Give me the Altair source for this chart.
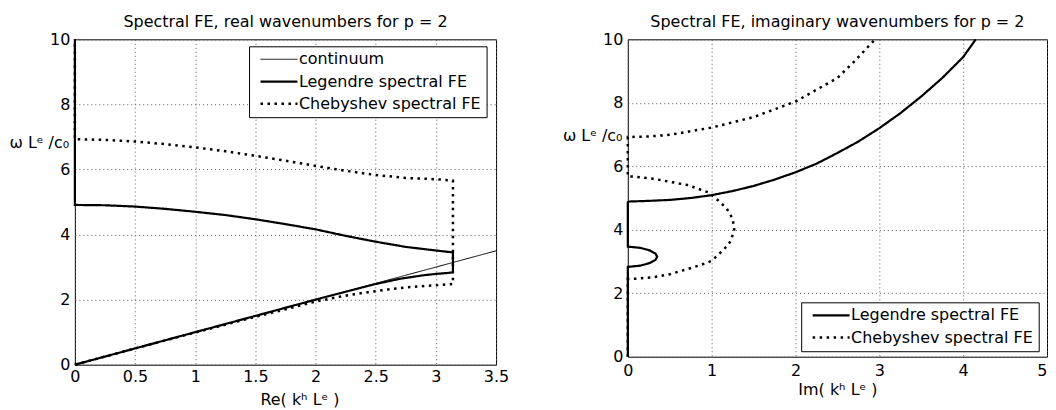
import altair as alt
import pandas as pd

PI = 3.1416

# ---------- Left panel: real wavenumbers ----------
cont_k = [0.0, 3.5]
cont_w = [0.0, 3.5]

leg_re_k = [0.0, 0.5, 1.0, 1.5, 2.0, 2.3, 2.5, 2.7, 2.9, 3.0, 3.1, PI, PI, 3.0, 2.75, 2.5,
            2.25, 2.0, 1.75, 1.5, 1.25, 1.0, 0.75, 0.5, 0.25, 0.0, 0.0]
leg_re_w = [0.0, 0.5, 1.0, 1.5, 2.0, 2.29, 2.48, 2.64, 2.75, 2.79, 2.82, 2.84, 3.45, 3.51, 3.62, 3.78,
            3.96, 4.16, 4.32, 4.47, 4.60, 4.70, 4.79, 4.86, 4.90, 4.91, 10.0]

cheb_re_k = [0.0, 0.5, 1.0, 1.5, 1.8, 2.0, 2.2, 2.4, 2.6, 2.8, 3.0, PI, PI, 3.0, 2.75, 2.5,
             2.25, 2.0, 1.75, 1.5, 1.25, 1.0, 0.75, 0.5, 0.25, 0.0, 0.0]
cheb_re_w = [0.0, 0.5, 0.99, 1.47, 1.75, 1.94, 2.09, 2.21, 2.31, 2.39, 2.44, 2.48, 5.66, 5.70, 5.74, 5.83,
             5.96, 6.11, 6.27, 6.42, 6.56, 6.68, 6.78, 6.86, 6.91, 6.93, 10.0]

# ---------- Right panel: imaginary wavenumbers ----------
leg_im_k = [0.0, 0.0, 0.15, 0.26, 0.33, 0.35, 0.33, 0.26, 0.15, 0.0, 0.0, 0.02, 0.25, 0.5, 0.75,
            1.0, 1.25, 1.5, 1.75, 2.0, 2.25, 2.5, 2.75, 3.0, 3.25, 3.5, 3.75, 4.0, 4.15]
leg_im_w = [0.0, 2.83, 2.87, 2.95, 3.05, 3.15, 3.25, 3.35, 3.43, 3.47, 4.87, 4.89, 4.91, 4.94, 5.00,
            5.09, 5.22, 5.38, 5.58, 5.81, 6.08, 6.42, 6.78, 7.20, 7.67, 8.20, 8.78, 9.44, 10.0]

cheb_im_k = [0.0, 0.0, 0.06, 0.32, 0.5, 0.71, 0.88, 1.0, 1.15, 1.23, 1.27, 1.25, 1.18, 1.05, 0.96,
             0.71, 0.32, 0.06, 0.0, 0.0, 0.25, 0.5, 1.0, 1.5, 2.0, 2.5, 2.7, 2.95]
cheb_im_w = [0.0, 2.45, 2.45, 2.51, 2.60, 2.76, 2.90, 3.02, 3.39, 3.65, 4.02, 4.35, 4.67, 4.99, 5.18,
             5.41, 5.60, 5.68, 5.68, 6.92, 6.94, 6.99, 7.22, 7.55, 8.04, 8.78, 9.30, 10.0]

SERIES_L = ["continuum", "Legendre spectral FE", "Chebyshev spectral FE"]
SERIES_R = ["Legendre spectral FE", "Chebyshev spectral FE"]
DASH = {"continuum": [1, 0], "Legendre spectral FE": [1, 0], "Chebyshev spectral FE": [2.5, 4.5]}
WIDTH = {"continuum": 1.0, "Legendre spectral FE": 2.2, "Chebyshev spectral FE": 2.5}

FONT = "DejaVu Sans"


def frame(xs, ws, name):
    return pd.DataFrame({"x": xs, "w": ws, "series": name, "i": list(range(len(xs)))})


left_df = pd.concat([frame(cont_k, cont_w, SERIES_L[0]),
                     frame(leg_re_k, leg_re_w, SERIES_L[1]),
                     frame(cheb_re_k, cheb_re_w, SERIES_L[2])], ignore_index=True)
right_df = pd.concat([frame(leg_im_k, leg_im_w, SERIES_R[0]),
                      frame(cheb_im_k, cheb_im_w, SERIES_R[1])], ignore_index=True)


def legend(lx, ly):
    return alt.Legend(orient="none", legendX=lx, legendY=ly, title=None, padding=5,
                      strokeColor="black", fillColor="white",
                      symbolType="M-0.375,0H8.875", symbolSize=64, labelOffset=29,
                      rowPadding=6.3, labelFontSize=16, labelFont=FONT, labelLimit=400,
                      labelColor="black")


def panel(df, series, xdom, xvals, xtitle, title, w, h, lx, ly, ytx, yty, xtx, xty, xlabpad,
          xalign):
    leg = legend(lx, ly)
    return alt.Chart(df, title=alt.TitleParams(title, fontSize=16, fontWeight="normal", font=FONT,
                                               offset=-12, baseline="alphabetic", anchor="middle",
                                               frame="group", color="black")).mark_line().encode(
        x=alt.X("x:Q", scale=alt.Scale(domain=xdom, nice=False, zero=False),
                axis=alt.Axis(values=xvals, format="~g", title=xtitle, titleX=xtx, titleY=xty,
                              titleBaseline="alphabetic", titleAlign="center", labelPadding=xlabpad,
                              labelFlush=False, labelAlign=xalign)),
        y=alt.Y("w:Q", scale=alt.Scale(domain=[0, 10], nice=False),
                axis=alt.Axis(values=[0, 2, 4, 6, 8, 10], format="d", title="ω Lᵉ /c₀",
                              titleAngle=0, titleX=ytx, titleY=yty, titleAlign="left",
                              titleBaseline="alphabetic", labelPadding=5, labelFlush=False)),
        color=alt.Color("series:N", scale=alt.Scale(domain=series, range=["black"] * len(series)),
                        legend=leg),
        strokeDash=alt.StrokeDash("series:N", scale=alt.Scale(domain=series,
                                                             range=[DASH[s] for s in series]),
                                  legend=leg),
        strokeWidth=alt.StrokeWidth("series:N", scale=alt.Scale(type="ordinal", domain=series,
                                                               range=[WIDTH[s] for s in series]),
                                    legend=leg),
        order="i:Q",
    ).properties(width=w, height=h)


left = panel(left_df, SERIES_L, [0, 3.5], [0, 0.5, 1, 1.5, 2, 2.5, 3, 3.5], "Re( kʰ Lᵉ )",
             "Spectral FE, real wavenumbers for p = 2", 422, 326, 174.5, 7, -66, 108, 225, 40, 4,
             "center")
right = panel(right_df, SERIES_R, [0, 5], [0, 1, 2, 3, 4, 5], "Im( kʰ Lᵉ )",
              "Spectral FE, imaginary wavenumbers for p = 2", 420, 318, 173.7, 263.5, -65.5, 101.5,
              210, 38, 6,
              {"condition": {"test": "datum.value === 5", "value": "right"}, "value": "center"})

chart = alt.hconcat(left, right, spacing=52).resolve_scale(
    color="independent", strokeDash="independent", strokeWidth="independent"
).resolve_legend(color="independent", strokeDash="independent", strokeWidth="independent").properties(
    padding={"left": 0, "top": 5, "right": 0, "bottom": 0}
).configure(font=FONT).configure_view(stroke="black", strokeWidth=1).configure_axis(
    grid=True, gridColor="#555555", gridDash=[1, 3], gridOpacity=1, gridWidth=1,
    domain=False, ticks=False, labelFontSize=16, labelColor="black", labelFont=FONT,
    titleFontSize=16, titleFontWeight="normal", titleColor="black", titleFont=FONT,
    labelFlush=False,
)

chart.save("out.html", embed_options={"renderer": "svg", "actions": False})
